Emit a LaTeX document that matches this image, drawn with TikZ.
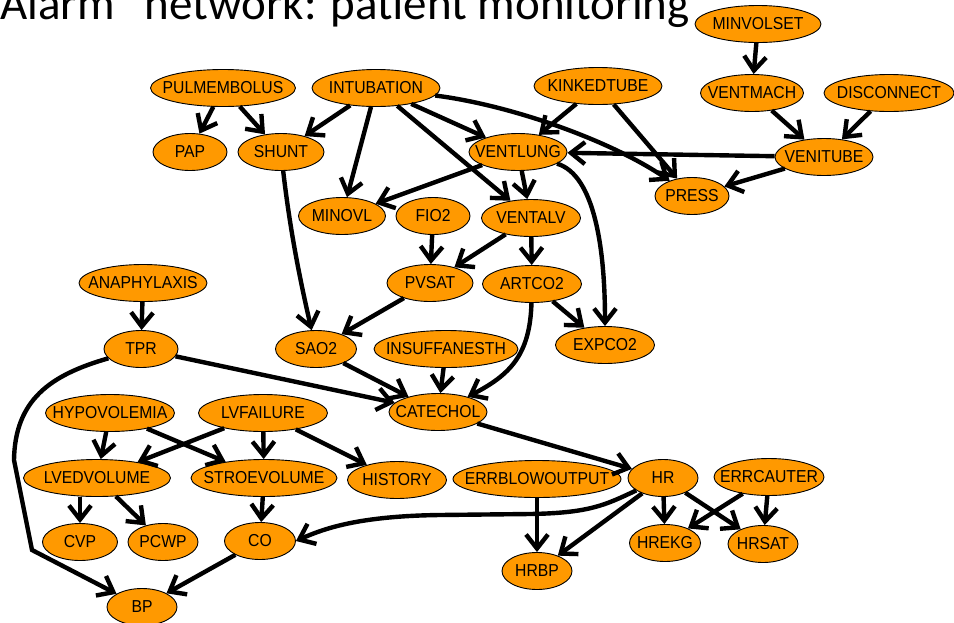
\documentclass[tikz,border=0pt]{standalone}
\usepackage{fontspec}
\setmainfont{Carlito}
\newfontfamily\nodefont[FakeStretch=0.91]{Liberation Sans}
\usetikzlibrary{shapes.geometric,arrows.meta}
\definecolor{nodeorange}{HTML}{FF9900}
\newcommand\zt[1]{\makebox[0pt]{#1}}
\begin{document}
\begin{tikzpicture}[x=1pt,y=-1pt,
  bn/.style={ellipse,draw=black,line width=0.9pt,fill=nodeorange,inner sep=0pt,
    minimum height=37pt,font=\nodefont\fontsize{17.3}{17.3}\selectfont},
  arr/.style={line width=4.4pt,line join=miter,-{Straight Barb[length=14pt,width=22pt]}}]
\useasboundingbox (0,0) rectangle (954,622);
\clip (0,0) rectangle (954,622);
\node[anchor=base west,inner sep=0pt,font=\fontsize{47}{47}\selectfont] (title) at (0,19) {\llap{“}Alarm” network: patient monitoring};
% nodes
\node[bn,minimum width=126pt] (minvolset) at (758,24) {\zt{MINVOLSET}};
\node[bn,minimum width=103pt] (ventmach) at (752,93) {\zt{VENTMACH}};
\node[bn,minimum width=130pt] (disconnect) at (889,93) {\zt{DISCONNECT}};
\node[bn,minimum width=98pt] (venitube) at (824,157) {\zt{VENITUBE}};
\node[bn,minimum width=74pt] (press) at (692,196) {\zt{PRESS}};
\node[bn,minimum width=128pt] (kinkedtube) at (598,86) {\zt{KINKEDTUBE}};
\node[bn,minimum width=98pt] (ventlung) at (518,152) {\zt{VENTLUNG}};
\node[bn,minimum width=145pt] (pulmembolus) at (223,88) {\zt{PULMEMBOLUS}};
\node[bn,minimum width=128pt] (intubation) at (376,88) {\zt{INTUBATION}};
\node[bn,minimum width=74pt] (pap) at (190,152) {\zt{PAP}};
\node[bn,minimum width=86pt] (shunt) at (281,152) {\zt{SHUNT}};
\node[bn,minimum width=87pt] (minovl) at (342,216) {\zt{MINOVL}};
\node[bn,minimum width=74pt] (fio2) at (433,216) {\zt{FIO2}};
\node[bn,minimum width=99pt] (ventalv) at (531,218) {\zt{VENTALV}};
\node[bn,minimum width=86pt] (pvsat) at (430,283) {\zt{PVSAT}};
\node[bn,minimum width=99pt] (artco2) at (532,284) {\zt{ARTCO2}};
\node[bn,minimum width=81pt] (sao2) at (316,349) {\zt{SAO2}};
\node[bn,minimum width=144pt] (insuff) at (446,349) {\zt{INSUFFANESTH}};
\node[bn,minimum width=99pt] (expco2) at (605,345) {\zt{EXPCO2}};
\node[bn,minimum width=98pt] (catechol) at (438,412) {\zt{CATECHOL}};
\node[bn,minimum width=128pt] (anaphylaxis) at (143,283) {\zt{ANAPHYLAXIS}};
\node[bn,minimum width=74pt] (tpr) at (141,349) {\zt{TPR}};
\node[bn,minimum width=129pt] (hypovolemia) at (110,413) {\zt{HYPOVOLEMIA}};
\node[bn,minimum width=129pt] (lvfailure) at (263,413) {\zt{LVFAILURE}};
\node[bn,minimum width=147pt] (lvedvolume) at (97,478) {\zt{LVEDVOLUME}};
\node[bn,minimum width=146pt] (stroevolume) at (264,478) {\zt{STROEVOLUME}};
\node[bn,minimum width=99pt] (history) at (397,480) {\zt{HISTORY}};
\node[bn,minimum width=75pt] (cvp) at (80,542) {\zt{CVP}};
\node[bn,minimum width=70pt] (pcwp) at (163,542) {\zt{PCWP}};
\node[bn,minimum width=71pt] (co) at (260,541) {\zt{CO}};
\node[bn,minimum width=70pt] (bp) at (142,607) {\zt{BP}};
\node[bn,minimum width=168pt] (errblow) at (537,479) {\zt{ERRBLOWOUTPUT}};
\node[bn,minimum width=70pt] (hr) at (663,478) {\zt{HR}};
\node[bn,minimum width=110pt] (errcauter) at (769,477) {\zt{ERRCAUTER}};
\node[bn,minimum width=71pt] (hrekg) at (665,543) {\zt{HREKG}};
\node[bn,minimum width=70pt] (hrsat) at (763,544) {\zt{HRSAT}};
\node[bn,minimum width=70pt] (hrbp) at (537,571) {\zt{HRBP}};
% edges
\draw[arr] (minvolset) -- (ventmach);
\draw[arr] (ventmach) -- (venitube);
\draw[arr] (disconnect) -- (venitube);
\draw[arr] (venitube) -- (press);
\draw[arr] (venitube) -- (ventlung);
\draw[arr] (kinkedtube) -- (ventlung);
\draw[arr] (kinkedtube) -- (press);
\draw[arr] (intubation) .. controls (510,105) and (610,140) .. (press);
\draw[arr] (intubation) -- (ventlung);
\draw[arr] (intubation) -- (shunt);
\draw[arr] (intubation) -- (minovl);
\draw[arr] (intubation) -- (ventalv);
\draw[arr] (pulmembolus) -- (pap);
\draw[arr] (pulmembolus) -- (shunt);
\draw[arr] (shunt) .. controls (290,230) and (300,280) .. (sao2);
\draw[arr] (ventlung) -- (minovl);
\draw[arr] (ventlung) -- (ventalv);
\draw[arr] (ventlung) .. controls (595,175) and (605,250) .. (expco2);
\draw[arr] (fio2) -- (pvsat);
\draw[arr] (ventalv) -- (pvsat);
\draw[arr] (ventalv) -- (artco2);
\draw[arr] (pvsat) -- (sao2);
\draw[arr] (artco2) -- (expco2);
\draw[arr] (artco2) .. controls (530,355) and (510,375) .. (catechol);
\draw[arr] (sao2) -- (catechol);
\draw[arr] (insuff) -- (catechol);
\draw[arr] (tpr) -- (catechol);
\draw[arr] (anaphylaxis) -- (tpr);
\draw[arr] (tpr) .. controls (50,375) and (15,400) .. (14,460) -- (32,550) -- (bp);
\draw[arr] (catechol) -- (hr);
\draw[arr] (hypovolemia) -- (lvedvolume);
\draw[arr] (hypovolemia) -- (stroevolume);
\draw[arr] (lvfailure) -- (lvedvolume);
\draw[arr] (lvfailure) -- (stroevolume);
\draw[arr] (lvfailure) -- (history);
\draw[arr] (cvp.north |- lvedvolume.south) -- (cvp);
\draw[arr] (lvedvolume) -- (pcwp);
\draw[arr] (stroevolume) -- (co);
\draw[arr] (hr) .. controls (605,505) and (590,513) .. (530,514) -- (440,515) .. controls (360,516) and (325,528) .. (co.east);
\draw[arr] (co) -- (bp);
\draw[arr] (errblow) -- (hrbp);
\draw[arr] (hr) -- (hrbp);
\draw[arr] (hr) -- (hrekg);
\draw[arr] (hr) -- (hrsat);
\draw[arr] (errcauter) -- (hrekg);
\draw[arr] (errcauter) -- (hrsat);
\end{tikzpicture}
\end{document}
